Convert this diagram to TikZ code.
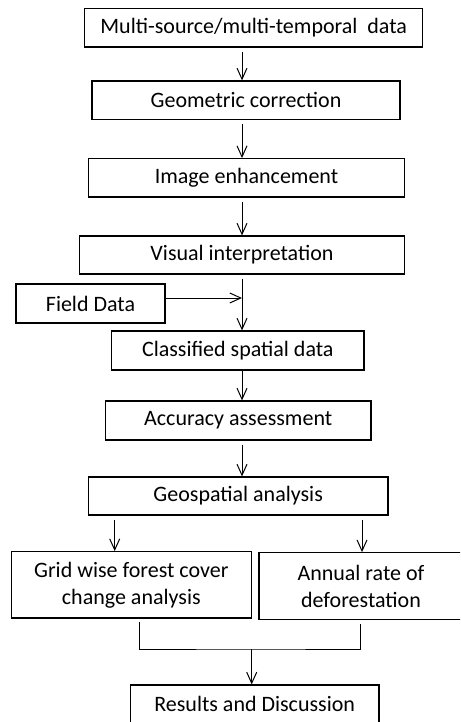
\documentclass[tikz,border=0pt]{standalone}
\usepackage{fontspec}
\setmainfont{Carlito}
\usetikzlibrary{arrows.meta}

\tikzset{
  box/.style={draw, line width=1.2pt, inner sep=0pt, align=center, font=\fontsize{22}{27}\selectfont},
  arr/.style={line width=1pt, shorten <=4pt, -{Straight Barb[length=11pt,width=10pt,line width=1pt]}},
  conn/.style={line width=1pt},
}

\begin{document}
\begin{tikzpicture}[x=1pt, y=-1pt]
\clip (0,0) rectangle (460,722);

\node[box, minimum width=338pt, minimum height=38.7pt](src) at (253.7,27.7) {Multi-source/multi-temporal\ \ data};
\node[box, minimum width=308pt, minimum height=38.7pt](geo) at (246,100.3) {Geometric correction};
\node[box, minimum width=316.4pt, minimum height=38.3pt](enh) at (246.5,177.8) {Image enhancement};
\node[box, minimum width=325.4pt, minimum height=38pt](vis) at (242,255) {Visual interpretation};
\node[box, minimum width=149pt, minimum height=39pt](field) at (90.5,303.5) {Field Data};
\node[box, minimum width=252.3pt, minimum height=39pt](cls) at (237.8,350.5) {Classified spatial data};
\node[box, minimum width=265.7pt, minimum height=39pt](acc) at (238.2,420.5) {Accuracy assessment};
\node[box, minimum width=299.7pt, minimum height=38pt](geos) at (238.2,496) {Geospatial analysis};

\node[box, minimum width=240pt, minimum height=66.3pt](grid) at (131.3,584.8) {Grid wise forest cover\\change analysis};
\node[box, minimum width=204pt, minimum height=66.6pt](ann) at (361,586) {Annual rate of\\deforestation};
\node[box, minimum width=248.7pt, minimum height=38pt](res) at (254.7,704) {Results and Discussion};

\draw[arr] (src.south -| vis.center) -- (geo.north -| vis.center);
\draw[arr] (geo.south -| vis.center) -- (enh.north -| vis.center);
\draw[arr] (enh.south -| vis.center) -- (vis.north);
\draw[arr] (vis.south) -- (cls.north -| vis.south);
\draw[arr, shorten <=0pt] ([yshift=5.5pt]field.east) -- ([yshift=5.5pt]field.east -| vis.south);
\draw[arr, shorten <=0pt] (cls.south -| vis.south) -- (acc.north -| vis.south);
\draw[arr] (acc.south -| vis.south) -- (geos.north -| vis.south);

\draw[arr] ([xshift=-16.6pt]grid.north |- geos.south) -- ([xshift=-16.6pt]grid.north);
\draw[arr] ([xshift=1pt]ann.north |- geos.south) -- ([xshift=1pt]ann.north);

\coordinate (join) at (251.7,649);
\draw[conn] ([xshift=8.4pt,yshift=-3pt]grid.south) |- (join) -| ([xshift=-1pt,yshift=-4pt]ann.south);
\draw[arr, shorten <=0pt] (join) -- (res.north -| join);
\end{tikzpicture}
\end{document}
